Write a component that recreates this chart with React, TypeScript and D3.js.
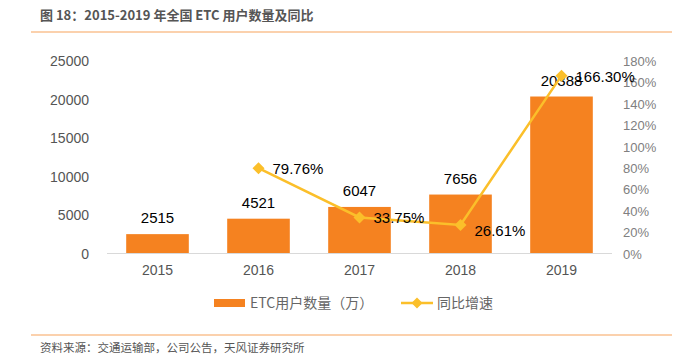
import React from "react";
import * as d3 from "d3";

const categories = ["2015", "2016", "2017", "2018", "2019"];
const users = [2515, 4521, 6047, 7656, 20388];
const growth: (number | null)[] = [null, 79.76, 33.75, 26.61, 166.3];
const leftTicks = [0, 5000, 10000, 15000, 20000, 25000];
const rightTicks = [0, 20, 40, 60, 80, 100, 120, 140, 160, 180];

const W = 681, H = 355;
const left = 107, right = 612, top = 61, bottom = 253.5;
const barColor = "#F58220";
const lineColor = "#FBBF2A";
const numFont = "'Liberation Sans', Arial, sans-serif";
const cjkFont = "'Noto Sans CJK SC', sans-serif";

export default function App() {
  const x = d3.scaleBand<string>().domain(categories).range([left, right]).paddingInner(0.38).paddingOuter(0.19);
  const xc = (c: string) => (x(c) as number) + x.bandwidth() / 2;
  const yL = d3.scaleLinear().domain([0, 25000]).range([bottom, top]);
  const yR = d3.scaleLinear().domain([0, 180]).range([bottom, top]);
  const pts = categories
    .map((c, i) => ({ c, v: growth[i] }))
    .filter((d) => d.v !== null) as { c: string; v: number }[];
  const line = d3.line<{ c: string; v: number }>().x((d) => xc(d.c)).y((d) => yR(d.v));
  const diamond = (cx: number, cy: number, r: number) =>
    `M${cx},${cy - r}L${cx + r},${cy}L${cx},${cy + r}L${cx - r},${cy}Z`;

  return (
    <svg width={W} height={H} style={{ position: "absolute", left: 0, top: 0, background: "#fff" }}>
      <text x={40} y={19.5} fontFamily={cjkFont} fontSize={13} fontWeight="bold" fill="#555">
        图 18：2015-2019 年全国 ETC 用户数量及同比
      </text>
      <line x1={31} x2={672} y1={32} y2={32} stroke="#F7A35C" strokeWidth={1.2} />

      {leftTicks.map((t) => (
        <text key={t} x={89} y={yL(t) + 5} textAnchor="end" fontFamily={numFont} fontSize={14} fill="#555">
          {t}
        </text>
      ))}
      {rightTicks.map((t) => (
        <text key={t} x={623} y={yR(t) + 5} textAnchor="start" fontFamily={numFont} fontSize={13} fill="#808080">
          {t}%
        </text>
      ))}

      {categories.map((c, i) => (
        <rect key={c} x={x(c)} y={yL(users[i])} width={x.bandwidth()} height={bottom - yL(users[i])} fill={barColor} />
      ))}
      <line x1={left} x2={right} y1={bottom} y2={bottom} stroke="#D9D9D9" strokeWidth={1} />

      {categories.map((c) => (
        <text key={c} x={xc(c)} y={bottom + 21} textAnchor="middle" fontFamily={numFont} fontSize={14} fill="#555">
          {c}
        </text>
      ))}

      {categories.map((c, i) => (
        <text key={c} x={xc(c)} y={yL(users[i]) - 11} textAnchor="middle" fontFamily={numFont} fontSize={15} fill="#000">
          {users[i]}
        </text>
      ))}

      <path d={line(pts) as string} fill="none" stroke={lineColor} strokeWidth={2.5} />
      {pts.map((d) => (
        <path key={d.c} d={diamond(xc(d.c), yR(d.v), 6)} fill={lineColor} />
      ))}
      {pts.map((d, i) => (
        <text key={d.c} x={xc(d.c) + 14} y={yR(d.v) + (i === 2 ? 11 : 6)} fontFamily={numFont} fontSize={15} fill="#000">
          {d.v.toFixed(2)}%
        </text>
      ))}

      <rect x={214} y={299} width={31} height={8} fill={barColor} />
      <text x={250} y={308} fontFamily={cjkFont} fontSize={14} fill="#666">ETC用户数量（万）</text>
      <line x1={401} x2={433} y1={303} y2={303} stroke={lineColor} strokeWidth={2.5} />
      <path d={diamond(417, 303, 5.5)} fill={lineColor} />
      <text x={437} y={308} fontFamily={cjkFont} fontSize={14} fill="#666">同比增速</text>

      <line x1={31} x2={672} y1={335} y2={335} stroke="#F7A35C" strokeWidth={1.2} />
      <text x={40} y={352} fontFamily={cjkFont} fontSize={11.5} fill="#555">
        资料来源：交通运输部，公司公告，天风证券研究所
      </text>
    </svg>
  );
}
